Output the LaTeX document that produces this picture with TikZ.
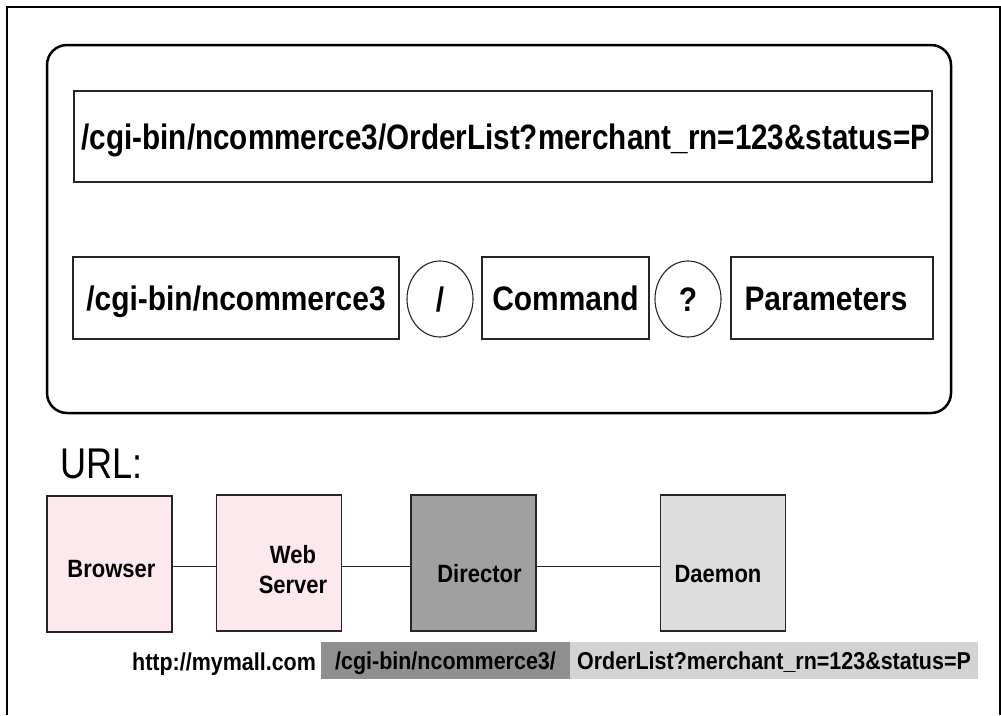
\documentclass[tikz,border=0pt]{standalone}
\usepackage{fontspec}
\setmainfont{Liberation Sans}
\newfontfamily\bcond{Liberation Sans}[FakeStretch=0.88]
\newfontfamily\tcond{Liberation Sans}[FakeStretch=0.84]
\newfontfamily\rcond{Liberation Sans}[FakeStretch=0.84]
\usetikzlibrary{shapes.geometric}
\definecolor{pinkfill}{RGB}{253,232,238}
\definecolor{dirgray}{RGB}{160,160,160}
\definecolor{daegray}{RGB}{221,221,221}
\definecolor{darkband}{RGB}{143,143,143}
\definecolor{lightband}{RGB}{211,211,211}
\begin{document}
\begin{tikzpicture}[x=1pt,y=-1pt,
  frameline/.style={line width=2pt, draw=black},
  urlbox/.style={draw=black!85, line width=1.1pt, inner sep=0pt, text height=24pt, text depth=0pt, font=\bcond\bfseries\fontsize{34}{36}\selectfont},
  urloval/.style={ellipse, draw=black!85, line width=1.1pt, inner sep=0pt, minimum width=66, minimum height=76, text height=24pt, text depth=0pt, font=\bcond\bfseries\fontsize{34}{36}\selectfont},
  compbox/.style={draw=black!85, line width=1.2pt, inner sep=0pt, minimum width=125, minimum height=136},
  complabel/.style={font=\bcond\bfseries\fontsize{25}{30}\selectfont, inner sep=0pt, anchor=base, align=center},
  band/.style={inner sep=0pt, minimum height=37, text height=17pt, text depth=0pt, font=\bcond\bfseries\fontsize{24.4}{26}\selectfont},
  link/.style={draw=black!85, line width=1pt}
]
\useasboundingbox (0,0) rectangle (1001,715);
% outer frame
\draw[frameline] (7,715) -- (7,7) -- (1001,7);
\draw[frameline] (1000,7) -- (1000,715);
% rounded container
\draw[line width=2.5pt, rounded corners=20pt] (47,45) rectangle (951,413);
% full URL box
\node[urlbox, minimum width=858, minimum height=91, text height=25pt, font=\tcond\bfseries\fontsize{35.3}{38}\selectfont] (full) at (503,136.5)
  {\hspace*{6pt}/cgi-bin/ncommerce3/OrderList?merchant\_rn=123\&status=P};
% decomposition
\node[urlbox, minimum width=326, minimum height=82] (prefix) at (236,298) {/cgi-bin/ncommerce3};
\node[urloval] (slash) at (440,299) {/};
\node[urlbox, minimum width=167, minimum height=82] (cmd) at (565.5,298) {Command};
\node[urloval] (qmark) at (688,299) {?};
\node[urlbox, minimum width=202, minimum height=82] (params) at (832,298) {\hspace*{-12pt}Parameters};
% URL label
\node[anchor=base west, inner sep=0pt, font=\rcond\fontsize{43}{46}\selectfont] (urllbl) at (60,478) {URL:};
% components
\node[compbox, fill=pinkfill] (browser) at (109.5,564) {};
\node[compbox, fill=pinkfill] (web) at (279,563) {};
\node[compbox, fill=dirgray] (director) at (473.5,563) {};
\node[compbox, fill=daegray] (daemon) at (723,563) {};
\node[complabel] (browserlbl) at (111.5,577) {Browser};
\node[complabel] (weblbl) at (293,593) {Web\\Server};
\node[complabel] (directorlbl) at (479.5,582) {Director};
\node[complabel] (daemonlbl) at (718,582) {Daemon};
\draw[link] (browser.east |- 0,566.7) -- (web.west |- 0,566.7);
\draw[link] (web.east |- 0,566.7) -- (director.west |- 0,566.7);
\draw[link] (director.east |- 0,566.7) -- (daemon.west |- 0,566.7);
% bottom URL breakdown
\node[anchor=base west, inner sep=0pt, font=\bcond\bfseries\fontsize{24.4}{26}\selectfont] (host) at (132,670) {http://mymall.com};
\node[band, fill=darkband, minimum width=249] (pathband) at (445.5,660.5) {/cgi-bin/ncommerce3/};
\node[band, fill=lightband, minimum width=408] (cmdband) at (774,660.5) {OrderList?merchant\_rn=123\&status=P};
\end{tikzpicture}
\end{document}
